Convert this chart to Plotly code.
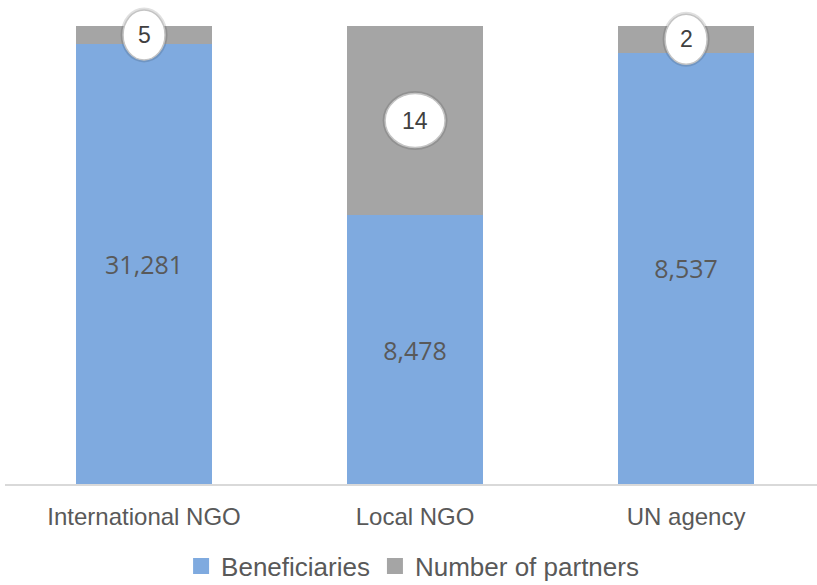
import plotly.graph_objects as go

categories = ["International NGO", "Local NGO", "UN agency"]
beneficiaries = [31281, 8478, 8537]
partners = [5, 14, 2]
# stacked 100% shares as drawn in the chart
beneficiaries_share = [96.1, 58.7, 94.2]
partners_share = [3.9, 41.3, 5.8]

BLUE = "#7FAADF"
GRAY = "#A5A5A5"
TXT = "#595959"

xs = list(range(len(categories)))

fig = go.Figure()
fig.add_trace(go.Bar(
    x=xs, y=beneficiaries_share, name="Beneficiaries", marker_color=BLUE,
    marker_line_width=0, width=0.502,
    text=[f"{v:,}" for v in beneficiaries], textposition="inside",
    insidetextanchor="middle", textangle=0, constraintext="none",
    textfont=dict(family="Open Sans", size=25, color="#595959"),
    showlegend=False, hoverinfo="skip",
))
fig.add_trace(go.Bar(
    x=xs, y=partners_share, name="Number of partners", marker_color=GRAY,
    marker_line_width=0, width=0.502, showlegend=False, hoverinfo="skip",
))
# legend entries
fig.add_trace(go.Scatter(x=[None], y=[None], mode="markers", name="Beneficiaries",
                         marker=dict(symbol="square", size=16, color=BLUE)))
fig.add_trace(go.Scatter(x=[None], y=[None], mode="markers", name="Number of partners",
                         marker=dict(symbol="square", size=16, color=GRAY)))

# ellipse callouts for number of partners
for i, (b, p, n) in enumerate(zip(beneficiaries_share, partners_share, partners)):
    cy = b + p / 2
    half_w = 21 if n < 10 else 30
    half_h = 25 if n < 10 else 27
    fig.add_shape(type="circle", xref="x", yref="y", xsizemode="pixel", ysizemode="pixel",
                  xanchor=i, yanchor=cy, x0=-half_w - 2.5, x1=half_w + 2.5,
                  y0=-half_h - 2.5, y1=half_h + 2.5,
                  fillcolor="rgba(0,0,0,0.12)", line_width=0, layer="above")
    fig.add_shape(type="circle", xref="x", yref="y", xsizemode="pixel", ysizemode="pixel",
                  xanchor=i, yanchor=cy, x0=-half_w, x1=half_w, y0=-half_h, y1=half_h,
                  fillcolor="white", line=dict(color="#C4C4C4", width=1.5), layer="above")
    fig.add_annotation(x=i, y=cy, xref="x", yref="y", text=str(n), showarrow=False,
                       font=dict(family="Liberation Sans", size=23, color="#404040"))

fig.update_layout(
    width=817, height=585,
    margin=dict(l=5, r=0, t=0, b=101),
    barmode="stack",
    plot_bgcolor="white", paper_bgcolor="white",
    font=dict(family="Liberation Sans", color=TXT),
    xaxis=dict(range=[-0.513, 2.483], tickvals=xs, ticktext=categories,
               showgrid=False, zeroline=False, showline=True, linecolor="#D9D9D9",
               linewidth=2, ticks="", ticklabelstandoff=10,
               tickfont=dict(family="Liberation Sans", size=24, color=TXT)),
    yaxis=dict(range=[0, 100 * 484 / 458], visible=False, showgrid=False, zeroline=False),
    legend=dict(orientation="h", xref="container", yref="container",
                x=0.505, xanchor="center", y=0.0325, yanchor="middle",
                traceorder="normal",
                font=dict(family="Liberation Sans", size=26, color=TXT),
                itemwidth=30, tracegroupgap=0),
)

fig.write_html("out.html")
